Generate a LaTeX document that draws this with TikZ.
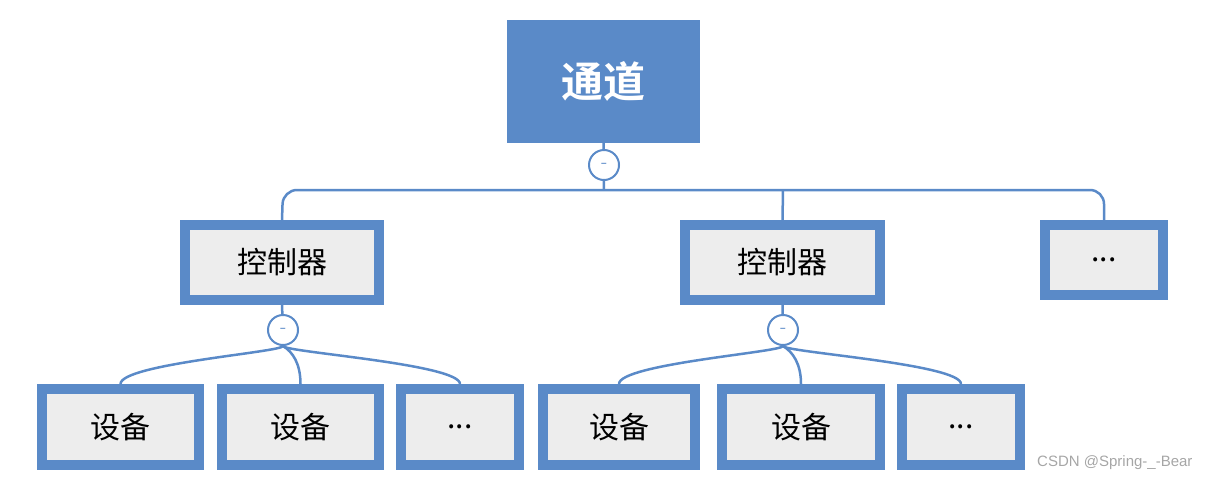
\documentclass[tikz,border=0pt]{standalone}
\usepackage{fontspec}
\newfontfamily\cjk{Noto Sans CJK SC}
\newfontfamily\cjkb{Noto Sans CJK SC Bold}
\setmainfont{Liberation Sans}
\definecolor{bl}{HTML}{5A8AC8}
\definecolor{gr}{HTML}{EDEDED}
\begin{document}
\begin{tikzpicture}[x=1pt,y=-1pt,
  box/.style={draw=bl,fill=gr,line width=10pt,inner sep=0pt,font=\cjk\fontsize{30}{30}\selectfont},
  ln/.style={draw=bl,line width=2.5pt},
  circ/.style={circle,draw=bl,fill=white,line width=2pt,minimum size=30pt,inner sep=0pt,text=bl,font=\bfseries}]
\useasboundingbox (0,0) rectangle (1210,482);
\node[draw=bl,fill=bl,line width=1pt,minimum width=192pt,minimum height=122pt,text=white,font=\cjkb\fontsize{42}{42}\selectfont] (top) at (603.5,81.5) {通道};
\node[box,minimum width=194pt,minimum height=75pt] (c1) at (282,262.5) {控制器};
\node[box,minimum width=195pt,minimum height=75pt] (c2) at (782.5,262.5) {控制器};
\node[box,minimum width=118pt,minimum height=70pt] (c3) at (1104,260) {...};
\node[box,minimum width=157pt,minimum height=76pt] (d1) at (120.5,427) {设备};
\node[box,minimum width=157pt,minimum height=76pt] (d2) at (300.5,427) {设备};
\node[box,minimum width=118pt,minimum height=76pt] (d3) at (460,427) {...};
\node[box,minimum width=152pt,minimum height=76pt] (d4) at (619,427) {设备};
\node[box,minimum width=158pt,minimum height=76pt] (d5) at (801,427) {设备};
\node[box,minimum width=118pt,minimum height=76pt] (d6) at (961,427) {...};
\draw[ln] (top.south) -- (604,190);
\draw[ln,rounded corners=14pt] (c1.north) -- (283,190) -- (1104,190) -- (c3.north);
\draw[ln,rounded corners=14pt] (783,190) -- (c2.north);
\node[circ] (k0) at (604,165) {–};
\draw[ln] (c1.south) -- (283,330);
\draw[ln] (c2.south) -- (783,330);
\node[circ] (k1) at (283,330) {–};
\node[circ] (k2) at (783,330) {–};
\foreach \k/\a/\b/\c in {k1/d1/d2/d3,k2/d4/d5/d6}{
  \draw[ln] (\k.south) .. controls +(0,6) and +(0,-20) .. (\a.north);
  \draw[ln] (\k.south) .. controls +(10,6) and +(0,-20) .. (\b.north);
  \draw[ln] (\k.south) .. controls +(0,6) and +(0,-20) .. (\c.north);
}
\node[text=gray!70,font=\fontsize{15}{15}\selectfont,anchor=east] (wm) at (1196,463) {CSDN @Spring-\_-Bear};
\end{tikzpicture}
\end{document}
